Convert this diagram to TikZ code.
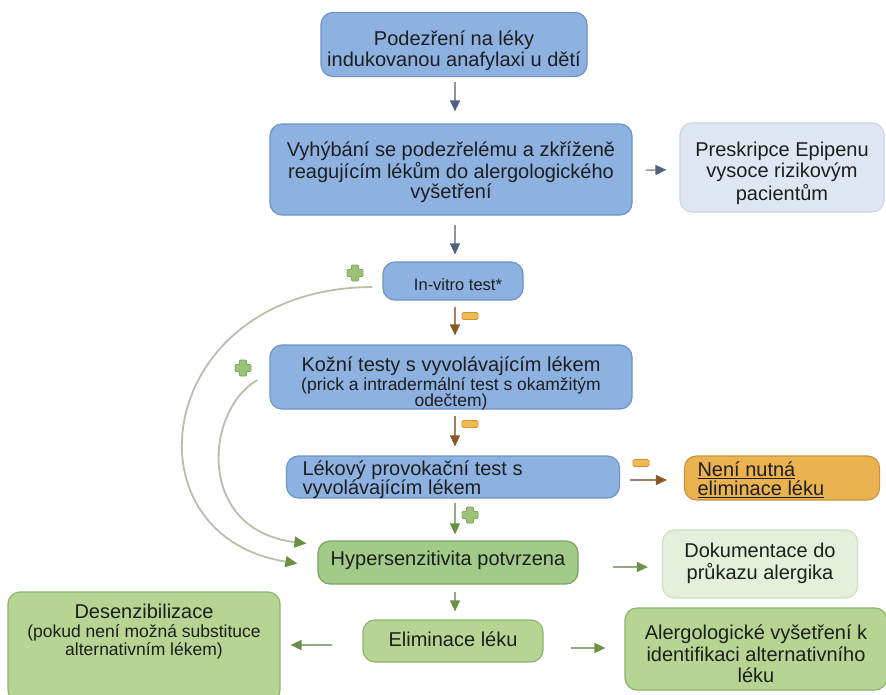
\documentclass[tikz,border=0pt]{standalone}
\usepackage{fontspec}
\setmainfont{Liberation Sans}
\usetikzlibrary{arrows.meta,calc}
\definecolor{txt}{RGB}{30,30,30}
\definecolor{bfill}{RGB}{141,178,225}
\definecolor{bdraw}{RGB}{110,148,200}
\definecolor{lbfill}{RGB}{223,231,243}
\definecolor{lbdraw}{RGB}{203,213,230}
\definecolor{ofill}{RGB}{235,178,80}
\definecolor{odraw}{RGB}{200,148,62}
\definecolor{gfill}{RGB}{162,203,137}
\definecolor{gdraw}{RGB}{118,162,98}
\definecolor{g2fill}{RGB}{182,213,146}
\definecolor{g2draw}{RGB}{140,180,110}
\definecolor{lgfill}{RGB}{228,240,218}
\definecolor{lgdraw}{RGB}{205,222,192}
\definecolor{lnblue}{RGB}{140,150,165}
\definecolor{hdblue}{RGB}{78,98,128}
\definecolor{lnbrown}{RGB}{160,130,100}
\definecolor{hdbrown}{RGB}{135,88,40}
\definecolor{lngreen}{RGB}{150,170,130}
\definecolor{hdgreen}{RGB}{108,145,68}
\definecolor{lncurve}{RGB}{190,190,168}
\definecolor{mfill}{RGB}{242,186,80}
\definecolor{mdraw}{RGB}{205,148,55}
\definecolor{pfill}{RGB}{155,196,120}
\definecolor{pdraw}{RGB}{125,170,95}
\newcommand{\mainsz}{\fontsize{20}{20.5}\selectfont}
\newcommand{\subsz}{\fontsize{17.5}{18}\selectfont}
% #1 raise (pt), #2 column type, #3 rows
\newcommand{\tb}[3]{\raisebox{#1pt}[0pt][0pt]{\begin{tabular}{@{}#2@{}}#3\end{tabular}}}
\tikzset{
  x=1pt, y=-1pt,
  box/.style={draw, rounded corners=12pt, line width=1.2pt, inner sep=0pt,
    text=txt, font=\mainsz},
  bluebox/.style={box, fill=bfill, draw=bdraw},
  lbluebox/.style={box, fill=lbfill, draw=lbdraw},
  orangebox/.style={box, fill=ofill, draw=odraw},
  greenbox/.style={box, fill=gfill, draw=gdraw},
  green2box/.style={box, fill=g2fill, draw=g2draw},
  lgreenbox/.style={box, fill=lgfill, draw=lgdraw},
  arrblue/.style={draw=lnblue, line width=1.4pt, -{Triangle[length=11pt,width=10pt,color=hdblue]}},
  arrbrown/.style={draw=lnbrown, line width=1.4pt, -{Triangle[length=11pt,width=10pt,color=hdbrown]}},
  arrgreen/.style={draw=lngreen, line width=1.4pt, -{Triangle[length=11pt,width=10pt,color=hdgreen]}},
  curvearr/.style={draw=lncurve, line width=1.8pt, -{Triangle[length=12pt,width=11pt,color=hdgreen]}},
  minussign/.pic={\draw[fill=mfill, draw=mdraw, rounded corners=1.5pt, line width=0.8pt] (-8,-3.5) rectangle (8,3.5);},
  plussign/.pic={\draw[fill=pfill, draw=pdraw, rounded corners=1pt, line width=0.8pt]
    (-3.5,-8) -- (3.5,-8) -- (3.5,-3.5) -- (8,-3.5) -- (8,3.5) -- (3.5,3.5) -- (3.5,8) -- (-3.5,8) -- (-3.5,3.5) -- (-8,3.5) -- (-8,-3.5) -- (-3.5,-3.5) -- cycle;},
}
\begin{document}
\begin{tikzpicture}
\useasboundingbox[fill=white] (0,0) rectangle (886,694);
\coordinate (ax) at (455,0);

\node[bluebox, minimum width=266pt, minimum height=64pt] (b1) at (454,44.5)
  {\tb{-12.5}{c}{Podezření na léky\\[0.5pt]indukovanou anafylaxi u dětí}};
\node[bluebox, minimum width=362pt, minimum height=91pt] (b2) at (451,169.5)
  {\tb{-9}{c}{Vyhýbání se podezřelému a zkříženě\\[-1pt]reagujícím lékům do alergologického\\[-0.5pt]vyšetření}};
\node[lbluebox, minimum width=204pt, minimum height=89pt] (b3) at (782,167.5)
  {\tb{-12}{c}{Preskripce Epipenu\\[0.5pt]vysoce rizikovým\\[0.5pt]pacientům}};
\node[bluebox, minimum width=140pt, minimum height=38pt, font=\fontsize{16.5}{18}\selectfont] (iv) at (453,281)
  {\tb{-10.5}{c}{\hspace*{10pt}In-vitro test*}};
\node[bluebox, minimum width=362pt, minimum height=64pt] (ko) at (451,377)
  {\tb{-12.75}{c}{Kožní testy s vyvolávajícím lékem\\[-0.8pt]\subsz (prick a intradermální test s okamžitým\\[-4.5pt]\subsz odečtem)}};
\node[bluebox, minimum width=333pt, minimum height=42pt] (le) at (453,477)
  {\makebox[301pt][l]{\tb{-8.9}{l}{Lékový provokační test s\\[-1.5pt]vyvolávajícím lékem}}};
\node[orangebox, minimum width=195pt, minimum height=44pt] (ne) at (782,478)
  {\makebox[169pt][l]{\tb{-8.9}{l}{\underline{Není nutná}\\[-1.5pt]\underline{eliminace léku}}}};
\node[greenbox, minimum width=260pt, minimum height=43pt] (hy) at (448,562.5)
  {\tb{-4.5}{c}{Hypersenzitivita potvrzena}};
\node[lgreenbox, minimum width=195pt, minimum height=68pt] (dk) at (760,564)
  {\tb{-5.5}{c}{Dokumentace do\\[0.5pt]průkazu alergika}};
\node[green2box, minimum width=180pt, minimum height=42pt] (el) at (453,641)
  {\tb{-6.4}{c}{Eliminace léku}};
\node[green2box, minimum width=272pt, minimum height=110pt] (de) at (144,647)
  {\tb{9}{c}{Desenzibilizace\\[-1.5pt]\subsz (pokud není možná substituce\\[-2.5pt]\subsz alternativním lékem)}};
\node[green2box, minimum width=262pt, minimum height=82pt] (al) at (756,649)
  {\tb{-13}{c}{Alergologické vyšetření k\\[0.5pt]identifikaci alternativního\\[0.5pt]léku}};

% vertical arrows
\draw[arrblue, shorten <=5pt, shorten >=12pt] (b1.south -| ax) -- (b2.north -| ax);
\draw[arrblue, shorten <=9pt, shorten >=7pt] (b2.south -| ax) -- (iv.north -| ax);
\draw[arrbrown, shorten <=6pt, shorten >=9pt] (iv.south -| ax) -- (ko.north -| ax);
\draw[arrbrown, shorten <=6pt, shorten >=9pt] (ko.south -| ax) -- (le.north -| ax);
\draw[arrgreen, shorten <=4pt, shorten >=6pt] (le.south -| ax) -- (hy.north -| ax);
\draw[arrgreen, shorten <=7pt, shorten >=8pt] (hy.south -| ax) -- (el.north -| ax);

% horizontal arrows
\draw[arrblue, shorten <=13pt, shorten >=13pt] ($(b2.east)+(0,1)$) -- ($(b3.west)+(0,2)$);
\draw[arrbrown, shorten <=10pt, shorten >=17pt] ($(le.east)+(0,3)$) -- ($(ne.west)+(0,2)$);
\draw[arrgreen, shorten <=34pt, shorten >=14pt] ($(hy.east)+(0,4.5)$) -- ($(dk.west)+(0,3)$);
\draw[arrgreen, shorten <=30pt, shorten >=10pt] ($(el.west)+(0,4)$) -- (de.east |- 0,645);
\draw[arrgreen, shorten <=27pt, shorten >=19pt] ($(el.east)+(0,7)$) -- (al.west |- 0,648);

% curved arrows
\draw[curvearr] ($(iv.west)+(-10,6)$) .. controls (155,288) and (120,535) .. ($(hy.west)+(-20,1)$);
\draw[curvearr] ($(ko.west)+(-12,3)$) .. controls (205,410) and (195,530) .. ($(hy.west)+(-11,-19)$);

% signs
\pic at (470,316) {minussign};
\pic at (470,424) {minussign};
\pic at (641,463) {minussign};
\pic at (470,515) {plussign};
\pic at (355,273) {plussign};
\pic at (243,368) {plussign};
\end{tikzpicture}
\end{document}
